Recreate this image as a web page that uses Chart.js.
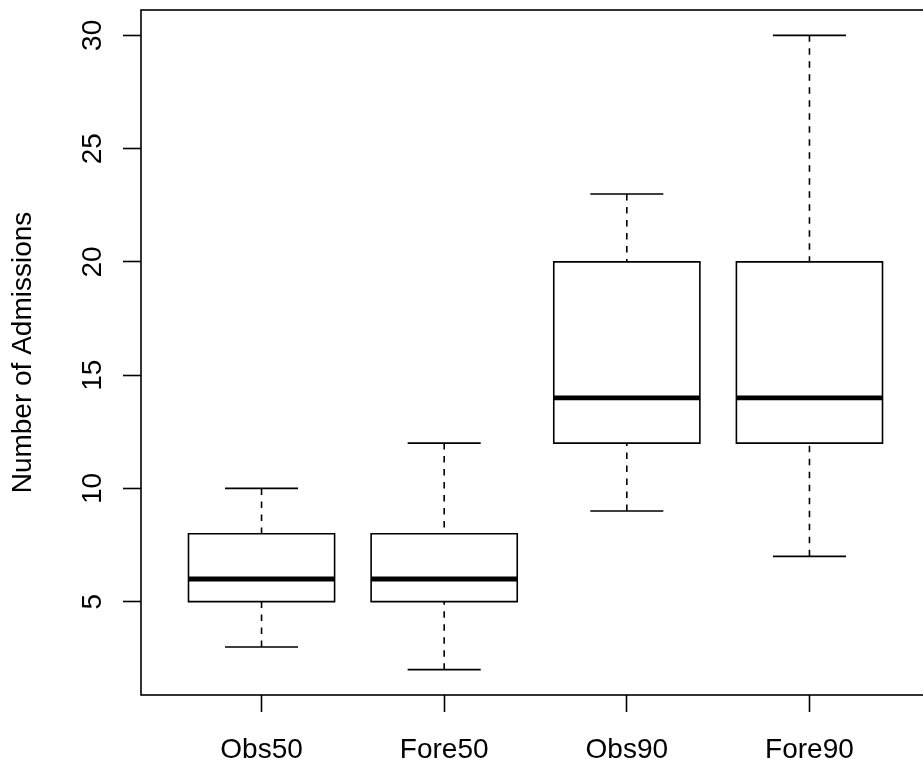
<!DOCTYPE html>
<html>
<head>
<meta charset="utf-8">
<script src="https://cdn.jsdelivr.net/npm/chart.js@4"></script>
<style>
  html, body { margin: 0; padding: 0; background: #ffffff; overflow: hidden; }
  #wrap { width: 930px; height: 769px; }
</style>
</head>
<body>
<div id="wrap"><canvas id="c" width="930" height="769"></canvas></div>
<script>
// ---- data ----
const categories   = ['Obs50', 'Fore50', 'Obs90', 'Fore90'];
const whiskerLow   = [3, 2, 9, 7];
const lowerQuart   = [5, 5, 12, 12];
const medians      = [6, 6, 14, 14];
const upperQuart   = [8, 8, 20, 20];
const whiskerHigh  = [10, 12, 23, 30];
const yTicks       = [5, 10, 15, 20, 25, 30];
const yTitle       = 'Number of Admissions';

// ---- style constants ----
const BOX_HALF = 0.4;    // boxwex 0.8
const CAP_HALF = 0.2;    // staple
const LW = 1.6;
const FS = 28;
const FONT = '"Liberation Sans", Arial, Helvetica, sans-serif';

const gap = i => ({ x: i, y: null });
const boxPts = [], whiskPts = [], capPts = [], medPts = [];
categories.forEach((c, k) => {
  const i = k + 1;
  boxPts.push({x: i - BOX_HALF, y: lowerQuart[k]}, {x: i + BOX_HALF, y: lowerQuart[k]},
              {x: i + BOX_HALF, y: upperQuart[k]}, {x: i - BOX_HALF, y: upperQuart[k]},
              {x: i - BOX_HALF, y: lowerQuart[k]}, gap(i));
  whiskPts.push({x: i, y: whiskerLow[k]}, {x: i, y: lowerQuart[k]}, gap(i),
                {x: i, y: whiskerHigh[k]}, {x: i, y: upperQuart[k]}, gap(i));
  capPts.push({x: i - CAP_HALF, y: whiskerLow[k]}, {x: i + CAP_HALF, y: whiskerLow[k]}, gap(i),
              {x: i - CAP_HALF, y: whiskerHigh[k]}, {x: i + CAP_HALF, y: whiskerHigh[k]}, gap(i));
  medPts.push({x: i - BOX_HALF, y: medians[k]}, {x: i + BOX_HALF, y: medians[k]}, gap(i));
});

const lineDs = (data, extra) => Object.assign({
  data, showLine: true, pointRadius: 0, borderColor: '#000', backgroundColor: '#000',
  borderWidth: LW, fill: false, spanGaps: false, tension: 0
}, extra);

const frame = {
  id: 'frame',
  afterDraw(chart) {
    const {ctx, chartArea: a} = chart;
    ctx.save();
    ctx.strokeStyle = '#000';
    ctx.lineWidth = LW;
    ctx.strokeRect(a.left, a.top, a.right - a.left, a.bottom - a.top);
    ctx.restore();
  }
};

new Chart(document.getElementById('c'), {
  type: 'scatter',
  data: {
    datasets: [
      lineDs(medPts,   { borderWidth: 4.8, order: 0 }),
      lineDs(boxPts,   { borderCapStyle: 'square', order: 1 }),
      lineDs(capPts,   { order: 2 }),
      lineDs(whiskPts, { borderDash: [6.5, 6.5], order: 3 })
    ]
  },
  options: {
    responsive: false,
    animation: false,
    events: [],
    layout: { padding: { top: 10, left: 0, right: 0, bottom: 0 } },
    plugins: { legend: { display: false }, tooltip: { enabled: false } },
    scales: {
      x: {
        type: 'linear',
        min: 0.34, max: 4.66,
        afterBuildTicks: s => { s.ticks = categories.map((c, k) => ({ value: k + 1 })); },
        afterFit: s => { s.height = 74; s.paddingLeft = 0; s.paddingRight = 0; },
        ticks: {
          autoSkip: false,
          maxRotation: 0, minRotation: 0,
          color: '#000',
          padding: 21,
          font: { family: FONT, size: FS },
          callback: v => categories[Math.round(v) - 1]
        },
        grid: { drawOnChartArea: false, drawTicks: true, tickLength: 17, tickColor: '#000', tickWidth: LW },
        border: { display: false }
      },
      y: {
        type: 'linear',
        min: 0.88, max: 31.12,
        afterBuildTicks: s => { s.ticks = yTicks.map(v => ({ value: v })); },
        afterFit: s => { s.width = 141; s.paddingTop = 0; s.paddingBottom = 0; },
        ticks: {
          autoSkip: false,
          minRotation: 90, maxRotation: 90,
          crossAlign: 'center',
          color: '#000',
          padding: 14,
          font: { family: FONT, size: FS },
          callback: v => String(v)
        },
        grid: { drawOnChartArea: false, drawTicks: true, tickLength: 18, tickColor: '#000', tickWidth: LW },
        border: { display: false },
        title: {
          display: true, text: yTitle, color: '#000',
          font: { family: FONT, size: FS },
          padding: { top: 6.5, bottom: 0 }
        }
      }
    }
  },
  plugins: [frame]
});
</script>
</body>
</html>
